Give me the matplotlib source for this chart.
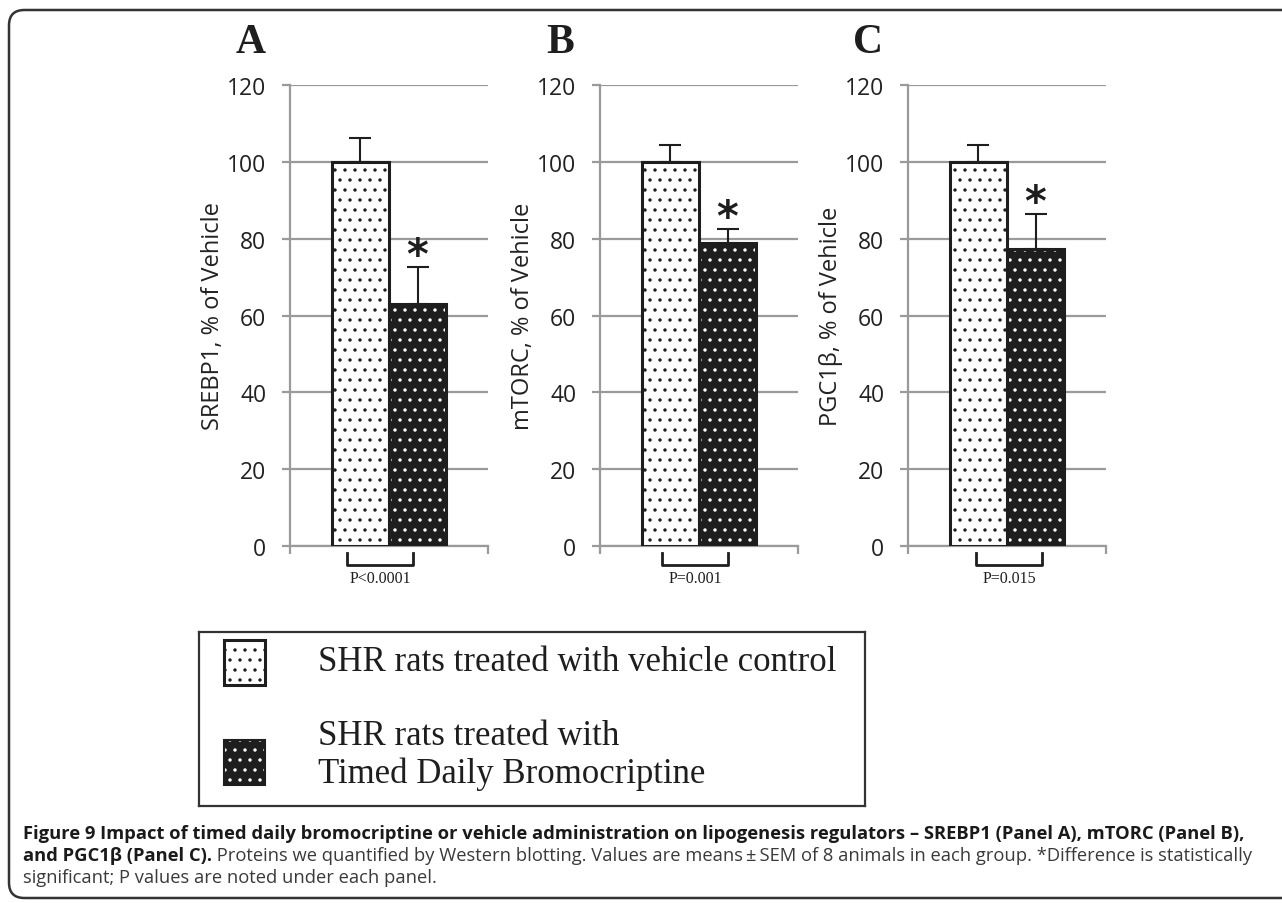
import matplotlib
matplotlib.use("Agg")
import matplotlib.pyplot as plt
from matplotlib.patches import Rectangle, FancyBboxPatch
from matplotlib.backend_bases import GraphicsContextBase

# finer dot hatch spacing (even density required)
_orig_hatch = GraphicsContextBase.get_hatch_path
def _hatch_path(self, density=10):
    return _orig_hatch(self, 10)
GraphicsContextBase.get_hatch_path = _hatch_path

# ---------------- data ----------------
panels = ["A", "B", "C"]
ylabels = ["SREBP1, % of Vehicle", "mTORC, % of Vehicle", "PGC1β, % of Vehicle"]
vehicle = [100, 100, 100]
vehicle_err = [6.2, 4.5, 4.4]
treated = [63.0, 78.9, 77.2]
treated_err = [9.6, 3.5, 9.1]
pvalues = ["P<0.0001", "P=0.001", "P=0.015"]
yticks = [0, 20, 40, 60, 80, 100, 120]
legend_labels = ["SHR rats treated with vehicle control",
                 "SHR rats treated with\nTimed Daily Bromocriptine"]

W, H = 1282, 904
fig = plt.figure(figsize=(W / 100, H / 100), dpi=100)

SANS = ["Open Sans", "DejaVu Sans"]
SERIF = ["Liberation Serif", "DejaVu Serif"]
GRID = "#9a9a9a"
DARK = "#1e1e1e"

ax_left = [290, 600, 908]
ax_w = 198
ax_top, ax_bot = 86, 547
bw = 0.576
bracket_shift = [-0.09, -0.04, 0.02]
for i in range(3):
    ax = fig.add_axes([ax_left[i] / W, 1 - ax_bot / H, ax_w / W, (ax_bot - ax_top) / H])
    ax.set_xlim(-1, 1)
    ax.set_ylim(0, 120)
    ax.set_yticks(yticks)
    ax.yaxis.grid(True, color=GRID, lw=1.6)
    ax.set_axisbelow(True)
    for s in ["top", "right"]:
        ax.spines[s].set_visible(False)
    for s in ["left", "bottom"]:
        ax.spines[s].set_color(GRID)
        ax.spines[s].set_linewidth(1.6)
    ax.set_xticks([-1, 1])
    ax.set_xticklabels(["", ""])
    ax.tick_params(axis="both", direction="out", length=6, width=1.6, color=GRID)
    ax.tick_params(axis="y", labelsize=16.5, labelcolor="#222222", pad=11)
    for lab in ax.get_yticklabels():
        lab.set_family(SANS)
    ax.set_ylabel(ylabels[i], fontsize=17, family=SANS, color="#222222")
    ax.yaxis.set_label_coords(-0.33, 0.5)

    # vehicle bar: white with black dots
    ax.bar([-bw / 2], [vehicle[i]], width=bw, facecolor="white", edgecolor=DARK,
           hatch=".", linewidth=2.2, zorder=3)
    # treated bar: black with white dots
    ax.bar([bw / 2], [treated[i]], width=bw, facecolor=DARK, edgecolor="white",
           hatch=".", linewidth=0, zorder=3)
    ax.bar([bw / 2], [treated[i]], width=bw, fill=False, edgecolor=DARK,
           linewidth=2.2, zorder=4)
    # upper error bars
    ax.errorbar([-bw / 2], [vehicle[i]], yerr=[[0], [vehicle_err[i]]], fmt="none",
                ecolor=DARK, elinewidth=1.5, capsize=8, capthick=1.5, zorder=2)
    ax.errorbar([bw / 2], [treated[i]], yerr=[[0], [treated_err[i]]], fmt="none",
                ecolor=DARK, elinewidth=1.5, capsize=8, capthick=1.5, zorder=2)
    # significance star
    ax.text(bw / 2, treated[i] + treated_err[i] + 3.0, "*", ha="center", va="center",
            fontsize=30, fontweight="bold", family=["DejaVu Sans"], color=DARK)
    # bracket + p value
    tr = ax.get_xaxis_transform()
    c = bracket_shift[i]
    ax.plot([c - 0.33, c - 0.33, c + 0.33, c + 0.33], [-0.016, -0.042, -0.042, -0.016],
            transform=tr, color=DARK, lw=2, clip_on=False)
    ax.text(c, -0.070, pvalues[i], transform=tr, ha="center", va="center",
            fontsize=11.5, family=SERIF, color=DARK)
    # panel letter
    ax.text(-0.2, 1.093, panels[i], transform=ax.transAxes, ha="center", va="center",
            fontsize=30, fontweight="bold", family=SERIF, color=DARK)

# ---------------- legend box ----------------
LX0, LX1, LY0, LY1 = 199, 865, 633, 807
lg = fig.add_axes([LX0 / W, 1 - LY1 / H, (LX1 - LX0) / W, (LY1 - LY0) / H])
lg.set_xlim(LX0, LX1)
lg.set_ylim(LY1, LY0)
lg.set_xticks([])
lg.set_yticks([])
for s in lg.spines.values():
    s.set_color("#333333")
    s.set_linewidth(1.6)
lg.add_patch(Rectangle((224, 641), 41, 45, facecolor="white", edgecolor=DARK,
                       hatch=".", linewidth=2.2))
lg.add_patch(Rectangle((224, 741), 41, 45, facecolor=DARK, edgecolor="white",
                       hatch=".", linewidth=0))
lg.add_patch(Rectangle((224, 741), 41, 45, fill=False, edgecolor=DARK, linewidth=1.5))
lg.text(318, 663, legend_labels[0], ha="left", va="center", fontsize=25,
        family=SERIF, color=DARK)
for k, line in enumerate(legend_labels[1].split("\n")):
    lg.text(318, 737 + 37 * k, line, ha="left", va="center", fontsize=25,
            family=SERIF, color=DARK)

# ---------------- frame ----------------
frame = FancyBboxPatch((9 / W, 1 - 899 / H), 1400 / W, 888 / H,
                       boxstyle="round,pad=0,rounding_size=0.012",
                       transform=fig.transFigure, facecolor="none",
                       edgecolor="#333333", linewidth=1.8, mutation_aspect=W / H)
fig.patches.append(frame)

# ---------------- caption ----------------
cap_x = 23 / W
l1 = ("Figure 9 Impact of timed daily bromocriptine or vehicle administration on "
      "lipogenesis regulators – SREBP1 (Panel A), mTORC (Panel B),")
l2b = "and PGC1β (Panel C)."
l2r = (" Proteins we quantified by Western blotting. Values are means\u2009±\u2009SEM of 8 "
       "animals in each group. *Difference is statistically")
l3 = "significant; P values are noted under each panel."
CAPFS = 13.2
fig.text(cap_x, 1 - 834 / H, l1, fontsize=CAPFS, fontweight="bold", family=SANS,
         va="center", color="#1a1a1a")
t2 = fig.text(cap_x, 1 - 856 / H, l2b, fontsize=CAPFS, fontweight="bold", family=SANS,
              va="center", color="#1a1a1a")
fig.canvas.draw()
bb = t2.get_window_extent(renderer=fig.canvas.get_renderer())
fig.text(bb.x1 / W, 1 - 856 / H, l2r, fontsize=CAPFS, family=SANS, va="center",
         color="#3a3a3a")
fig.text(cap_x, 1 - 878 / H, l3, fontsize=CAPFS, family=SANS, va="center",
         color="#3a3a3a")

fig.savefig("out.png", dpi=100)
